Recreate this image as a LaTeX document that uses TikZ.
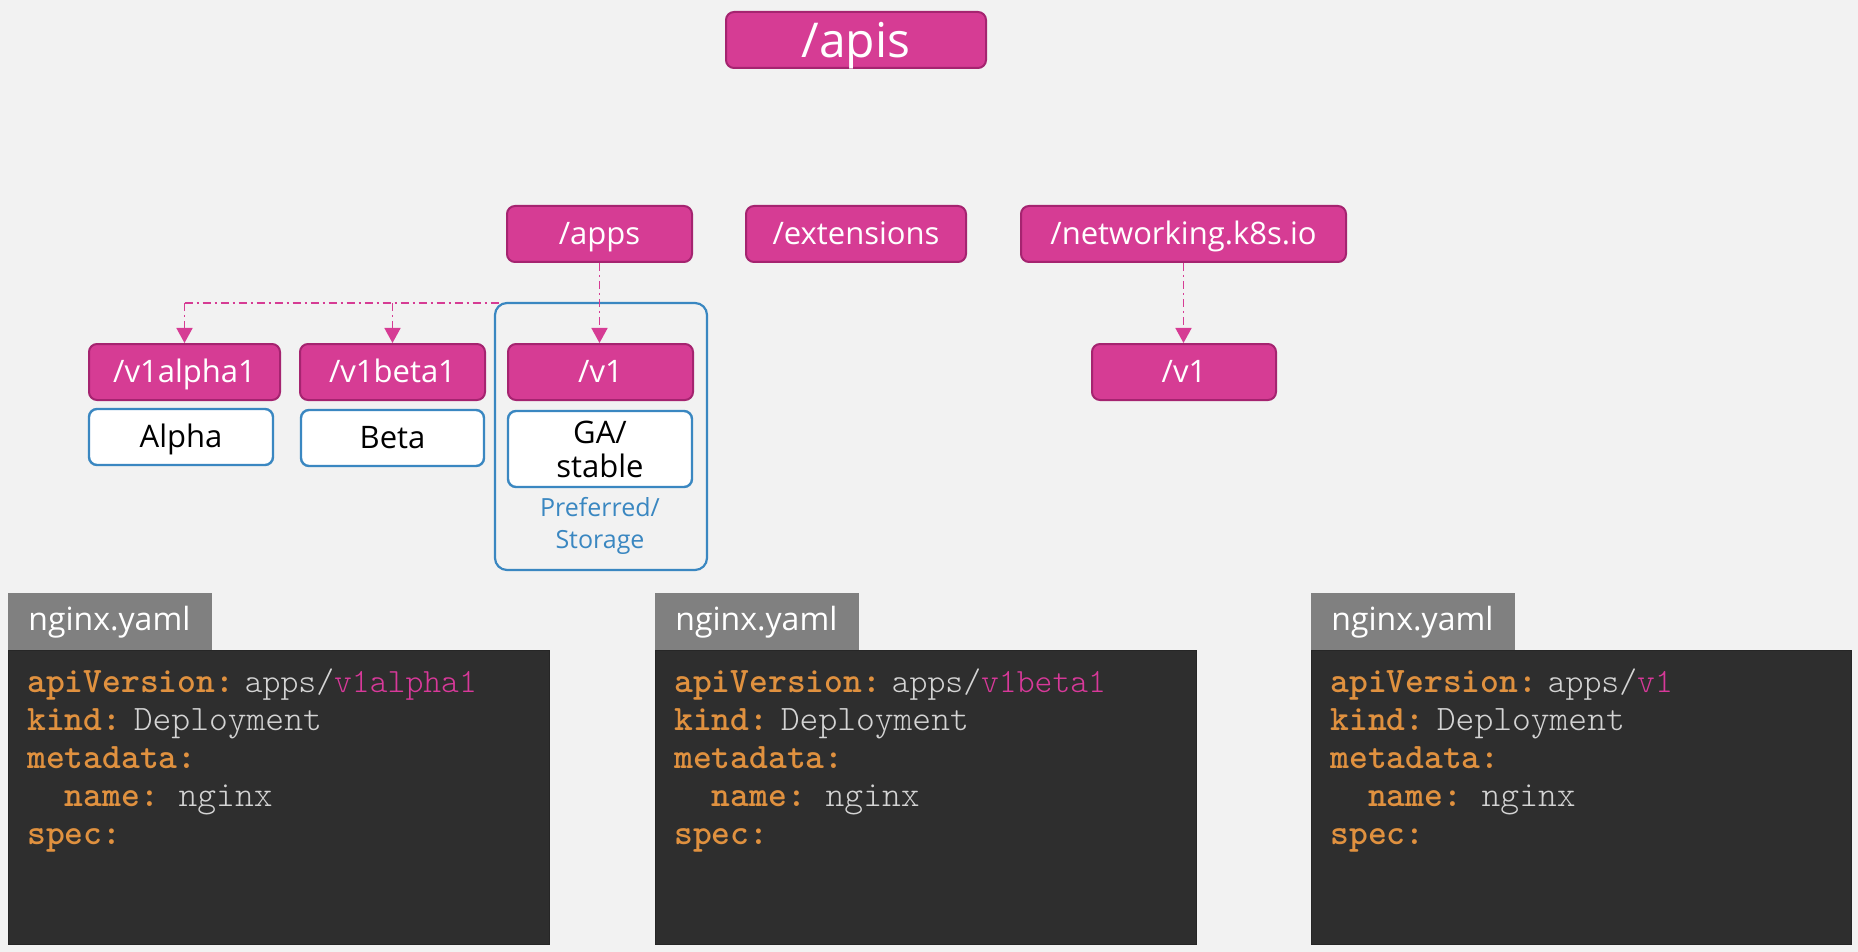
\documentclass[tikz,border=0pt]{standalone}
\usepackage{fontspec}
\setmainfont{Open Sans}
\newfontfamily\codefont{Latin Modern Mono Light}
\usetikzlibrary{arrows.meta}
\definecolor{bg}{HTML}{F2F2F2}
\definecolor{pk}{HTML}{D63C94}
\definecolor{pkd}{HTML}{A52470}
\definecolor{bl}{HTML}{3A87C1}
\definecolor{codebg}{HTML}{2E2E2E}
\definecolor{tabg}{HTML}{808080}
\definecolor{orng}{HTML}{E0913F}
\definecolor{codegr}{HTML}{D4D4D4}
\definecolor{ver}{HTML}{D8399A}
\newcommand\yk[1]{{\bfseries\color{orng}#1}}
\newcommand\yv[1]{{\color{codegr}#1}}
\tikzset{
  pinkbox/.style={draw=pkd, fill=pk, line width=1pt, rounded corners=4pt, text=white,
    inner sep=0pt, minimum height=28pt, text height=11.5pt, text depth=1pt,
    font=\fontsize{15.5}{18}\selectfont},
  whitebox/.style={draw=bl, fill=white, line width=1.2pt, rounded corners=4pt, text=black,
    inner sep=0pt, minimum height=28pt, align=center, font=\fontsize{15.5}{17}\selectfont},
  onelinebox/.style={text height=11.5pt, text depth=1pt},
  groupbox/.style={draw=bl, line width=1.1pt, rounded corners=6pt, inner sep=0pt},
  conn/.style={draw=pk, line width=0.8pt, dash pattern=on 4pt off 2pt on 1pt off 2pt},
  tip/.style={-{Triangle[width=8pt,length=7.5pt]}},
  tabbox/.style={fill=tabg, inner sep=0pt, minimum width=102pt, minimum height=28.5pt, anchor=north west},
  codebox/.style={fill=codebg, draw=black!85, line width=0.5pt, inner sep=0pt, minimum height=147pt, anchor=north west},
  tablabel/.style={anchor=base west, inner sep=0pt, text=white, font=\fontsize{16}{18}\selectfont},
  codeline/.style={anchor=base west, inner sep=0pt, font=\codefont\fontsize{17.9}{20}\selectfont},
  note/.style={text=bl, align=center, inner sep=0pt, font=\fontsize{12.5}{16}\selectfont}
}
\begin{document}
\begin{tikzpicture}[x=0.5pt,y=-0.5pt]
\fill[bg] (0,0) rectangle (1858,952);
\useasboundingbox (0,0) rectangle (1858,952);

% group container
\node[groupbox, minimum width=106pt, minimum height=133.5pt] (cont) at (601,436.5) {};

% top level
\node[pinkbox, minimum width=130pt, text height=17.5pt, text depth=0pt, font=\fontsize{24}{28}\selectfont] (apis) at (856,40) {/apis};
\node[pinkbox, minimum width=92.5pt] (apps) at (599.5,234) {/apps};
\node[pinkbox, minimum width=110pt] (ext) at (856,234) {/extensions};
\node[pinkbox, minimum width=162.5pt] (net) at (1183.5,234) {/networking.k8s.io};

% versions
\node[pinkbox, minimum width=95.5pt] (va) at (184.5,372) {/v1alpha1};
\node[pinkbox, minimum width=92.5pt] (vb) at (392.5,372) {/v1beta1};
\node[pinkbox, minimum width=92.5pt] (v1) at (600.5,372) {/v1};
\node[pinkbox, minimum width=92pt] (vn) at (1184,372) {/v1};

% levels
\node[whitebox, onelinebox, minimum width=92pt] (alpha) at (181,437) {Alpha};
\node[whitebox, onelinebox, minimum width=91.5pt] (beta) at (392.5,438) {Beta};
\node[whitebox, minimum width=92pt, minimum height=38pt] (ga) at (600,449) {GA/\\stable};
\node[note] (pref) at (600,525.5) {Preferred/\\Storage};

% connectors
\coordinate (j1) at (184.5,303);
\draw[conn] (j1) -- ([xshift=2.5pt]j1 -| cont.west);
\draw[conn,tip] (j1) -- (va.north);
\draw[conn,tip] (j1 -| vb.north) -- (vb.north);
\draw[conn,tip] (apps.south) -- (apps.south |- v1.north);
\draw[conn,tip] (net.south) -- (net.south |- vn.north);

% yaml panels
\foreach \px/\w/\ver/\nm in {8/270.5/v1alpha1/1, 655/270.5/v1beta1/2, 1311/270/v1/3}{
  \node[tabbox] (tab\nm) at (\px,593) {};
  \node[codebox, minimum width=\w pt] (code\nm) at (\px,650) {};
  \node[tablabel] (lab\nm) at (\px+20,630) {nginx.yaml};
  \node[codeline] (api\nm) at (\px+19,692) {\yk{apiVersion:}\hspace{0.3em}{\fontsize{17}{20}\selectfont\yv{apps/}{\color{ver}\ver}}};
  \node[codeline] (kind\nm) at (\px+19,730) {\yk{kind:}\hspace{0.35em}\yv{Deployment}};
  \node[codeline] (meta\nm) at (\px+19,768) {\yk{metadata:}};
  \node[codeline] (name\nm) at (\px+19,806) {\hspace{1.05em}\yk{name:}\hspace{0.55em}\yv{nginx}};
  \node[codeline] (spec\nm) at (\px+19,844) {\yk{spec:}};
}
\end{tikzpicture}
\end{document}
